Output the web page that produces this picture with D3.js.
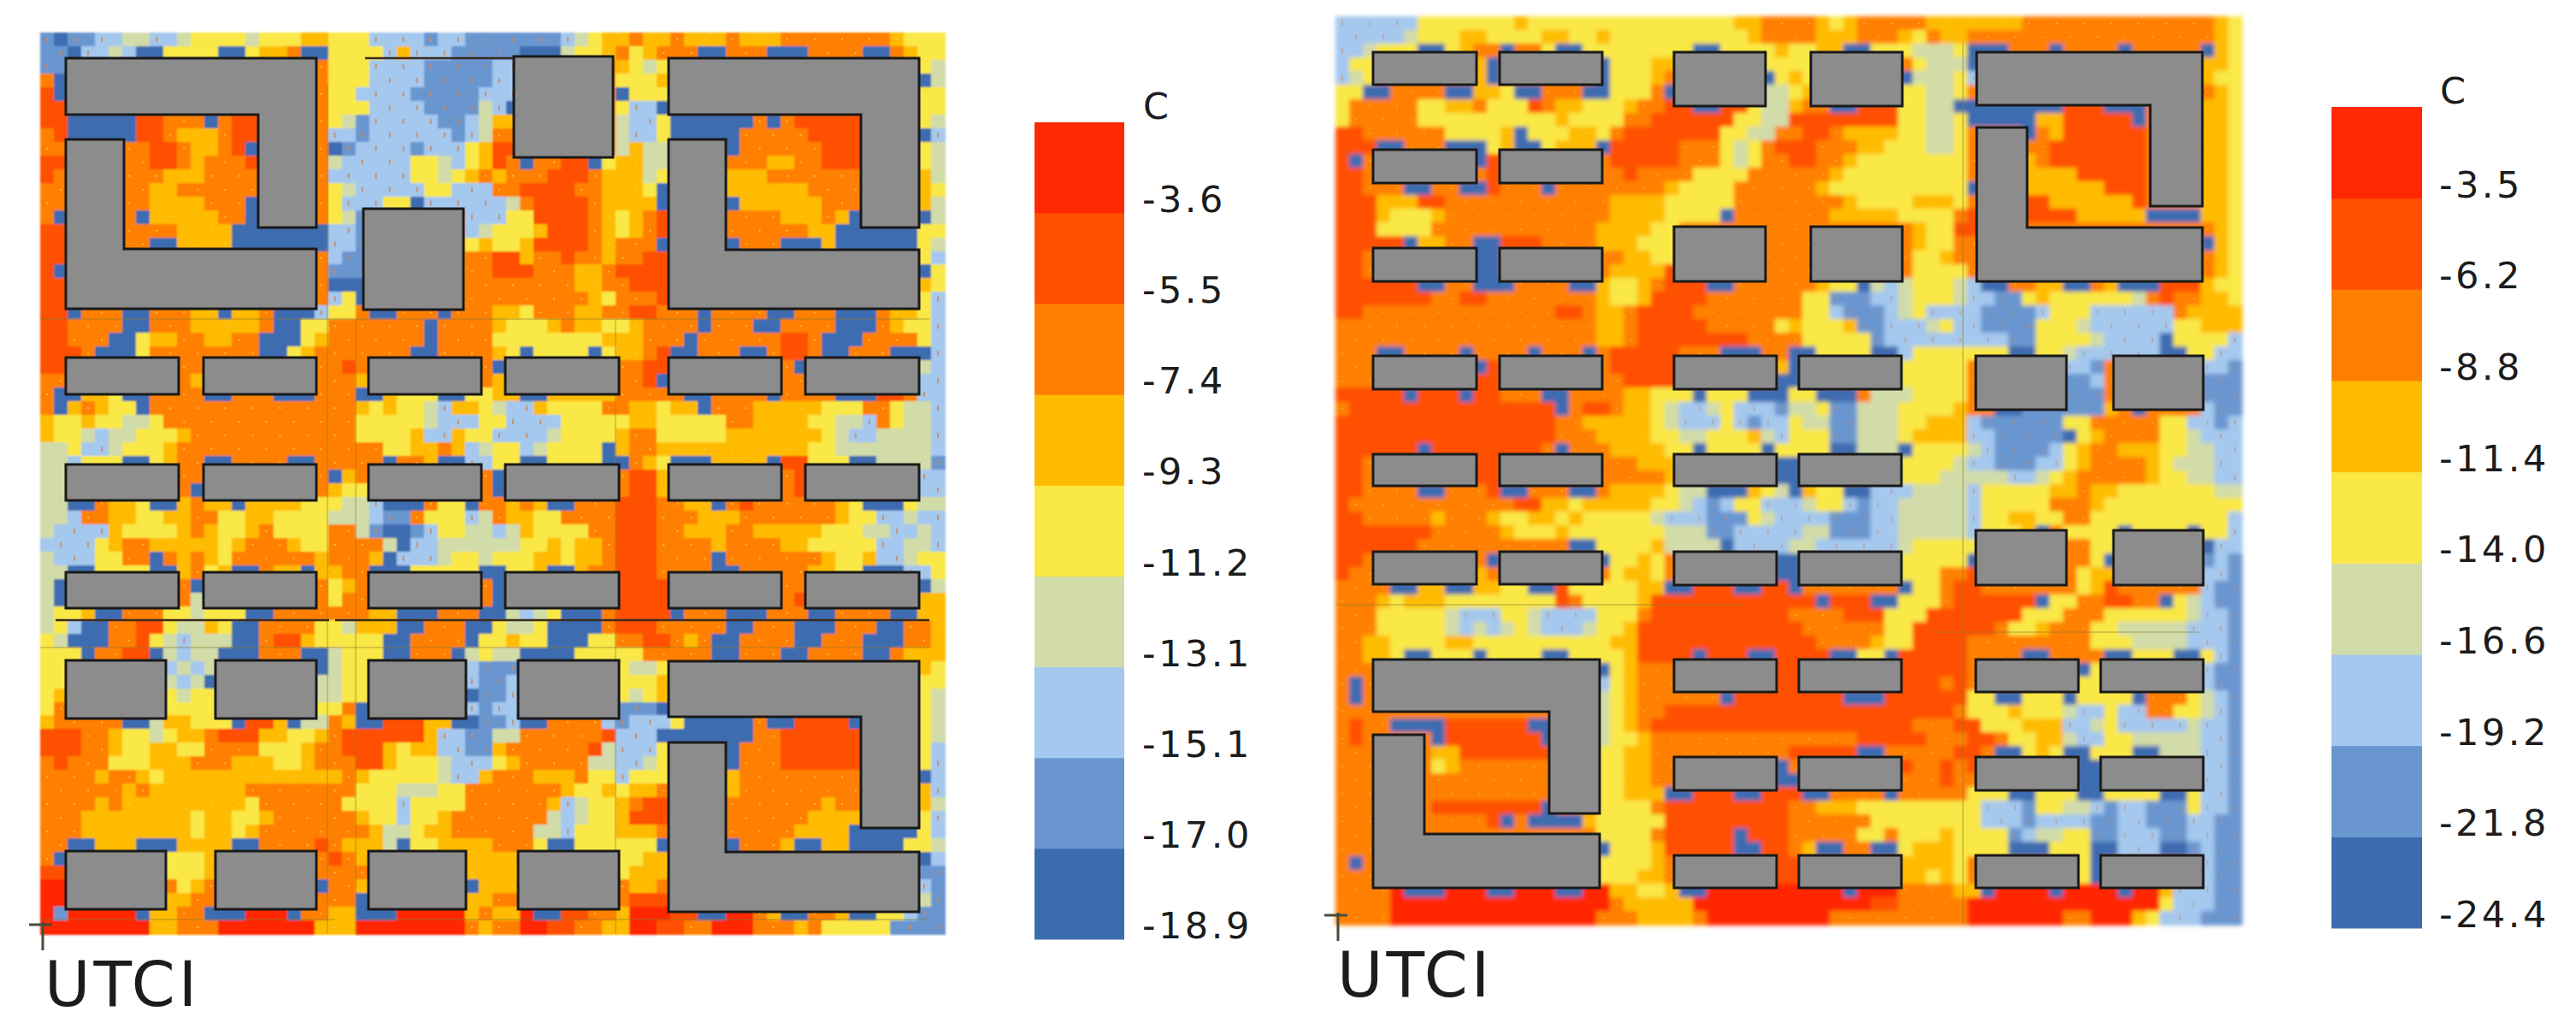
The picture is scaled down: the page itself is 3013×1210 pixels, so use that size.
<!DOCTYPE html>
<html>
<head>
<meta charset="utf-8">
<title>UTCI</title>
<script src="https://cdn.jsdelivr.net/npm/d3@7"></script>
<style>
  body { margin: 0; background: #fff; }
  text { font-family: "DejaVu Sans", sans-serif; fill: #1c1c1c; }
</style>
</head>
<body>
<div id="chart"></div>
<script>
// UTCI class of every grid cell, 0 = coldest, 8 = warmest (66 x 66, split in blocks of 11 for reading)
var leftCells = [
"10112233223 44443444554 44222212211 11111234556 55655565556 66666665444",
"11022320044 44004556004 44425222111 11000344564 56660066600 06666006544",
"11666666666 66666666664 44222211111 22666666654 34666666666 66666666643",
"60666666666 66666666664 44222211111 22666666644 45666666666 66666666603",
"70666666666 66666666664 42222111112 22666666604 44666666666 66666666644",
"77666666666 66666666664 44222211113 20666666642 20666666666 66666666644",
"77000007766 60677666664 31222221123 55666666632 24000000606 77777066643",
"67000007765 55677666662 21222222123 66666666632 24000006666 67777766602",
"66666666776 55670666660 12222122245 77666666635 33666606666 66777666643",
"77666666776 56667666663 22222443245 76066770455 33666666655 66777666643",
"76666666655 56666666662 22222443456 56667776555 34666655566 66666666653",
"66666666556 66666666664 32222244222 66777766555 40666655555 56666666654",
"66666666555 56660666664 22244022222 23677776555 50666605555 55666666653",
"60666660555 55660666664 31666666622 24477776545 67666666665 55650666603",
"77666666665 55500000002 21666666623 44457776545 67666666666 65500000044",
"77666666005 55500000002 21666666645 44577776566 60666606660 00500000043",
"77666666666 66666666662 11666666666 77566766566 77666666666 66666666642",
"70666666666 66666666661 11666666666 77766655677 77666666666 66666666604",
"77666666666 66666666660 00666666666 66666655667 77666666666 66666666654",
"77666666666 66666666662 40666666666 66666665466 67666666666 66666666642",
"77066600666 55055600024 46006660666 55466655667 76660666600 66600065542",
"77666600666 55555600446 66666606666 54445655445 66660666006 66600065442",
"77666004556 65566000456 66666606666 44444444555 66606666667 76000666642",
"77760004666 66666004566 66666006666 54044440455 67006660067 76006660002",
"77666666666 66666666666 76666666666 06666666666 77666666666 06666666632",
"66666666666 56666666666 65666666666 56666666666 70666666666 66666666622",
"60055400666 60066600066 60054440044 55005555566 66600666606 66600077622",
"60565440666 66666666666 65454432554 32254444665 54550666555 55444664332",
"54454433466 66666666666 64444432224 42222444445 54444466555 54433264332",
"54432334445 66666666666 64444522544 22223444456 64444455555 55432233332",
"33422344456 66666666666 66644556523 44234444056 65555555555 54433333332",
"33244400456 60066660066 66606650022 44004444006 54000555507 74440033331",
"33666666666 66666666660 56666666666 06666666667 75666666666 76666666622",
"33666666666 06666666665 44666666666 06666666667 75666666666 76666666622",
"33006554005 65505555444 33200064406 65650066677 76655067666 66654000433",
"33266554455 66445544443 33211644423 65544666677 76665556666 66654422322",
"32222544445 65445644446 63100124433 23544446677 76655566555 55444332232",
"22224566555 55456665446 66630223333 33445455677 76666566665 54444422332",
"32224466065 65466666656 66502223443 44455455677 76666066666 66544522344",
"33004444005 64500655055 66000444440 04450056677 76666006666 65544000224",
"30666666666 06666666664 56666666666 06666666677 77666666666 64666666603",
"30666666666 36666666664 66666666666 06666666677 77666666666 70666666655",
"34450066644 34440066666 66550006660 03234000677 77066600066 60066660055",
"34200667743 35400666644 35550066600 43340000677 76666600666 00066600665",
"43000667432 33300677544 44400666604 45440004466 77656006666 00666000665",
"44406677032 33000666003 44400666034 33000044444 66666006660 06666006555",
"44666666623 23666666603 44666666621 11666666643 34666666666 66666666654",
"44666666632 30666666633 44666666621 12666666644 45666666666 66666666644",
"45666666643 44666666633 44666666601 12666666643 45666666666 66666666643",
"46666666644 44666666644 60666666621 22666666611 10666666666 66666666643",
"56666600355 44407750336 50077755001 12006666212 22400000600 77770066643",
"77766544345 56777554456 77777752211 33666666722 20000000667 77777766643",
"77766544554 46666444566 77754552211 56666667322 24666606667 77777766642",
"67666444555 66655544566 67754443222 45666663322 34666606667 77777766642",
"66665665455 55555555555 65444443225 66655564424 44666656666 66666666602",
"66666656555 55556666666 64443334466 66666544545 56666656666 66666666652",
"66665655555 55554666666 44442444466 66665234456 77666666666 66566666653",
"66655555555 45544566666 65442445666 66663234457 77666666666 65555666642",
"66655555555 45545666666 66533455666 66633244455 56666666666 55550000042",
"66005550005 55500666676 55530445555 66640044444 40666606665 00550000443",
"60666666644 45666666667 65666666655 55666666644 55666666666 66666666602",
"77666666644 45666666666 66666666655 55666666645 55666666666 66666666611",
"88666666664 56666666606 65666666605 55666666665 56666666666 66666666621",
"88666666655 66666666666 60666666655 66666666667 77666666666 66666666631",
"81888880556 60008880665 50008888856 55800776658 88770088650 06650044211",
"88888888556 66888888855 58888888865 66887766558 87766888666 56444441111"
];

var rightCells = [
"22222244444 44544444444 44444445566 66545666665 55555566666 66666666654",
"22222344455 44445544544 44444444566 66555666546 55666666666 66666666654",
"22344400456 60664004444 44440044445 44550044433 34000666066 66066666054",
"24466666665 06666666044 45566666644 44666666643 33066666666 66666666554",
"23466666665 06666666044 45666666604 54666666033 34266666666 66666666544",
"44006666005 54006660044 46066666633 45666666443 34666666666 66666666654",
"46666644556 44476554445 66770077433 56600777443 30000000077 70006666554",
"46666644444 44444544446 67777774433 77777777443 34000005577 77706666554",
"77666666444 45044455467 77777744336 67765555443 34666606577 77776666554",
"77700666000 45004555077 77766643467 77666554443 34666666777 77776666554",
"70666666660 76666666677 77766643466 77665444444 44666656777 77776666554",
"77666666666 76666666667 66664444666 66654444444 44666655557 77776666554",
"77666006600 76660666666 66544446666 66544444444 44066655555 57776666554",
"77755577666 66666666655 55444446666 66665444455 54666677555 55576666554",
"77754445666 66666666655 55444406666 66655555444 46766677775 55550000554",
"77744446666 66666666555 54466666666 66666666654 47766666666 66666666654",
"77777055660 07776666555 44466666666 66666666654 46666666666 66666666054",
"77666666660 06666666665 54466666666 66666666644 56666666666 66666666654",
"77666666660 06666666655 55766666666 66666666644 44666666666 66666666654",
"77777700660 00666600544 56777006666 66544032344 43200665500 65000777544",
"77777776677 66666666544 57777666666 64411122344 43221145444 44436766554",
"77666666666 66666776556 77776666666 64421112342 22211112444 22222265555",
"66666666666 66666666556 77777666664 54445112223 42211114443 22222244555",
"66666666666 66666666556 77777777666 64444412222 22222114444 32222044442",
"66600666606 66606660677 77766600066 00444400244 44444004432 22222004422",
"66666666660 76666666677 77766666665 06666666444 44666666622 16666666221",
"66666666667 76666666667 77766666660 06666666444 44666666611 26666666111",
"77777077707 76660066665 54440444000 44000633344 44666666611 16666666111",
"67777777777 77777067765 54322342221 33411333444 45660011111 15606666211",
"77777777777 77777665555 54322242122 43311333445 55211111144 66666442212",
"77777777777 77777666555 54433444532 44411333455 55221111104 56666443222",
"77777707777 77776066655 55440444404 44400333044 44321111245 66555443322",
"77666666667 76666666666 55566666660 06666666444 43221112245 66665433322",
"77666666667 76666666666 66566666660 06666666444 33333223456 66665443322",
"77666600666 70066600655 55433000543 05440022233 33244444556 55444444433",
"76666666666 66775545555 54432124422 23442122333 33244444666 54444444444",
"77666665666 54455454444 43222111432 22211122333 33244554466 44444444442",
"77777776666 65444544444 44333112222 23311122333 33244450644 44044440442",
"77777766666 66666600444 45333302222 33222222344 44466666666 44666666022",
"77666666666 06666666044 54666666660 06666666444 44066666666 40666666121",
"76666666665 66666666645 54666666660 06666666444 66766666664 55666666221",
"66660055005 54400744444 55007770077 06666666044 67766666664 57666666211",
"66654555444 44444764444 57777777777 77077700444 67777770446 67766043211",
"66644444322 24432222444 67777777777 66667774447 77777744466 64444443221",
"66644444323 23432223445 77777777777 76666664477 77776445666 44333332221",
"66554444554 44444444455 77777777777 77666654477 77666666666 44433332221",
"66554004440 44440044445 77770777007 77700440777 77666600666 60044400421",
"66666666666 76666666045 66666666667 76666666777 77666666660 46666666211",
"60666666666 76666666245 66666666667 76666666777 67666666664 46666666211",
"60666666666 66666666345 66666607777 77770007777 77440044404 44406664321",
"66666666666 66666666345 66777777777 77777777777 76444544432 24226644321",
"67660000777 77700666345 67777777777 77777777766 67744455522 34222223221",
"67666660777 77770666344 56666666666 66666777776 66776445532 24433333221",
"66666665577 77777666445 56666666666 77777006666 67760045400 44400333221",
"66666664566 66666666445 56666666660 66666666766 76766666660 00666666221",
"66666666666 66666666445 56666666660 06666666666 76666666660 00666666221",
"66666666666 66666666445 55007770077 70066660666 66444004440 04444004221",
"66666667777 77770666444 46777777777 66555444444 44422214433 21221114221",
"66666666666 70600005444 44777777777 66666644444 44422212222 11221112211",
"66666666666 66666666444 46777770777 66666446444 54444123344 11222112211",
"66666666666 66666666044 45777770077 65006600455 54444000444 00222001211",
"60666666666 66666666444 45666666667 76666666555 54666666664 06666666211",
"66666666666 66666666444 55666666667 76666666554 54666666664 06666666211",
"66668000888 00888008855 44500888888 88880888666 65508888088 88088522211",
"66668888888 88888888865 55558888888 88888877666 66888888888 88888422211",
"66668888888 88888888666 55556888888 88866666666 66888888866 88854222111"
];

var colors = ["#3c6cb0", "#6a96d0", "#a4c8ee", "#d2dca8", "#f9e844", "#ffbb00", "#ff8000", "#ff5000", "#ff2800"];
var classes = d3.range(9);

// tick labels of the two colour bars, warmest first
var leftTicks = ["-3.6", "-5.5", "-7.4", "-9.3", "-11.2", "-13.1", "-15.1", "-17.0", "-18.9"];
var rightTicks = ["-3.5", "-6.2", "-8.8", "-11.4", "-14.0", "-16.6", "-19.2", "-21.8", "-24.4"];

// buildings in site units, [x0, y0, x1, y1] for the plain blocks
var leftBlocks = [
  [378, 206, 495, 324], [554, 28, 670, 146],
  [30, 380, 162, 423], [191, 380, 323, 423], [384, 380, 516, 423], [544, 380, 677, 423], [735, 380, 867, 423], [895, 380, 1028, 423],
  [30, 505, 162, 547], [191, 505, 323, 547], [384, 505, 516, 547], [544, 505, 677, 547], [735, 505, 867, 547], [895, 505, 1028, 547],
  [30, 631, 162, 673], [191, 631, 323, 673], [384, 631, 516, 673], [544, 631, 677, 673], [735, 631, 867, 673], [895, 631, 1028, 673],
  [30, 734, 147, 802], [205, 734, 323, 802], [384, 734, 498, 802], [559, 734, 677, 802],
  [30, 957, 147, 1025], [205, 957, 323, 1025], [384, 957, 498, 1025], [559, 957, 677, 1025]
];
var leftWings = [
  [[30, 30], [323, 30], [323, 228], [255, 228], [255, 96], [30, 96]],
  [[30, 125], [98, 125], [98, 253], [323, 253], [323, 323], [30, 323]],
  [[735, 30], [1028, 30], [1028, 228], [960, 228], [960, 96], [735, 96]],
  [[735, 125], [802, 125], [802, 254], [1028, 254], [1028, 323], [735, 323]],
  [[735, 735], [1028, 735], [1028, 930], [960, 930], [960, 800], [735, 800]],
  [[735, 830], [802, 830], [802, 958], [1028, 958], [1028, 1028], [735, 1028]]
];
var rightBlocks = [
  [44, 42, 165, 80], [192, 42, 312, 80], [44, 156, 165, 195], [192, 156, 312, 195],
  [44, 271, 165, 310], [192, 271, 312, 310], [44, 397, 165, 436], [192, 397, 312, 436],
  [44, 512, 165, 549], [192, 512, 312, 549], [44, 626, 165, 664], [192, 626, 312, 664],
  [396, 42, 503, 105], [556, 42, 663, 105], [396, 246, 503, 310], [556, 246, 663, 310],
  [396, 397, 516, 436], [542, 397, 662, 436], [396, 512, 516, 549], [542, 512, 662, 549],
  [396, 626, 516, 665], [542, 626, 662, 665], [396, 752, 516, 790], [542, 752, 662, 790],
  [396, 866, 516, 905], [542, 866, 662, 905], [396, 981, 516, 1019], [542, 981, 662, 1019],
  [749, 397, 855, 460], [910, 397, 1015, 460], [749, 601, 855, 665], [910, 601, 1015, 665],
  [749, 752, 869, 790], [895, 752, 1015, 790], [749, 866, 869, 905], [895, 866, 1015, 905],
  [749, 981, 869, 1019], [895, 981, 1015, 1019]
];
var rightWings = [
  [[44, 752], [309, 752], [309, 932], [250, 932], [250, 813], [44, 813]],
  [[44, 840], [104, 840], [104, 956], [309, 956], [309, 1019], [44, 1019]],
  [[750, 42], [1014, 42], [1014, 222], [953, 222], [953, 104], [750, 104]],
  [[750, 130], [809, 130], [809, 247], [1014, 247], [1014, 310], [750, 310]]
];

// model edge lines, [x0, y0, x1, y1] in site units
var leftEdges = [
  [18, 687, 338, 687], [345, 687, 1040, 687], [380, 30, 556, 30]
];
var leftFaint = [
  [0, 335, 1040, 335], [0, 719, 1040, 719], [0, 1037, 345, 1037], [384, 1037, 1040, 1037],
  [336, 60, 336, 1054], [369, 335, 369, 1054], [673, 335, 673, 1054]
];
var rightFaint = [
  [734, 30, 734, 1062], [0, 688, 480, 688], [700, 720, 1010, 720]
];

var svgWidth = 3013;
var svgHeight = 1210;

var svg = d3.select("#chart")
  .append("svg")
  .attr("width", svgWidth)
  .attr("height", svgHeight);

// the picture is a soft scan, so the cells get a small blur
var defs = svg.append("defs");
[["softLeft", 1.2], ["softRight", 2.4]].forEach(function(f) {
  defs.append("filter")
    .attr("id", f[0])
    .attr("x", "-1%").attr("y", "-1%")
    .attr("width", "102%").attr("height", "102%")
    .append("feGaussianBlur")
    .attr("stdDeviation", f[1]);
});

var colorScale = d3.scaleOrdinal().domain(classes).range(colors);

// one map panel: the grid, the wind dots, the edge lines and the buildings
function drawMap(cfg) {
  var rows = cfg.cells.map(d => d.replace(/ /g, ""));
  var cells = [];
  rows.forEach(function(row, r) {
    row.split("").forEach(function(v, c) {
      cells.push({ r: r, c: c, v: +v });
    });
  });

  var xBand = d3.scaleBand().domain(d3.range(66)).range([cfg.left, cfg.left + cfg.width]);
  var yBand = d3.scaleBand().domain(d3.range(66)).range([cfg.top, cfg.top + cfg.height]);
  var x = d3.scaleLinear().domain([0, cfg.width]).range([cfg.left, cfg.left + cfg.width]);
  var y = d3.scaleLinear().domain([0, cfg.height]).range([cfg.top, cfg.top + cfg.height]);

  var g = svg.append("g");

  g.append("g")
    .attr("filter", `url(#${cfg.soft})`)
    .selectAll("rect")
    .data(cells)
    .enter()
    .append("rect")
    .attr("x", d => xBand(d.c))
    .attr("y", d => yBand(d.r))
    .attr("width", xBand.bandwidth() + 0.6)
    .attr("height", yBand.bandwidth() + 0.6)
    .attr("fill", d => colorScale(d.v))
    .attr("shape-rendering", "crispEdges");

  // wind arrows show as little specks, only on every other cell
  var specks = cells.filter(d => (d.v === 1 || d.v === 2 || d.v === 5 || d.v === 6) && (d.r + d.c) % 2 === 0);
  g.selectAll("rect.speck")
    .data(specks)
    .enter()
    .append("rect")
    .attr("class", "speck")
    .attr("x", d => xBand(d.c) + xBand.bandwidth() / 2 - 1)
    .attr("y", d => yBand(d.r) + yBand.bandwidth() / 2 - (d.v < 3 ? 3 : 1))
    .attr("width", 2)
    .attr("height", d => d.v < 3 ? 6 : 2)
    .attr("fill", d => d.v < 3 ? "#c9885e" : "#ffc95a")
    .attr("opacity", cfg.speckOpacity);

  g.selectAll("line.faint")
    .data(cfg.faint)
    .enter()
    .append("line")
    .attr("class", "faint")
    .attr("x1", d => x(d[0]))
    .attr("y1", d => y(d[1]))
    .attr("x2", d => x(d[2]))
    .attr("y2", d => y(d[3]))
    .attr("stroke", "#8a7a30")
    .attr("stroke-width", 1.5)
    .attr("opacity", 0.45);

  g.selectAll("line.edge")
    .data(cfg.edges)
    .enter()
    .append("line")
    .attr("class", "edge")
    .attr("x1", d => x(d[0]))
    .attr("y1", d => y(d[1]))
    .attr("x2", d => x(d[2]))
    .attr("y2", d => y(d[3]))
    .attr("stroke", "#3b2a1c")
    .attr("stroke-width", 2.5);

  g.selectAll("rect.block")
    .data(cfg.blocks)
    .enter()
    .append("rect")
    .attr("class", "block")
    .attr("x", d => x(d[0]))
    .attr("y", d => y(d[1]))
    .attr("width", d => x(d[2]) - x(d[0]))
    .attr("height", d => y(d[3]) - y(d[1]))
    .attr("fill", "#8c8c8c")
    .attr("stroke", "#1a1a1a")
    .attr("stroke-width", 3);

  var wingLine = d3.line().x(d => x(d[0])).y(d => y(d[1]));
  g.selectAll("path.wing")
    .data(cfg.wings)
    .enter()
    .append("path")
    .attr("class", "wing")
    .attr("d", d => wingLine(d) + "Z")
    .attr("fill", "#8c8c8c")
    .attr("stroke", "#1a1a1a")
    .attr("stroke-width", 3);

  // origin cross in the lower left corner
  g.append("path")
    .attr("d", `M${cfg.crossX - 16},${cfg.crossY}H${cfg.crossX + 11}M${cfg.crossX},${cfg.crossY - 3}V${cfg.crossY + 30}`)
    .attr("stroke", "#4a4a3a")
    .attr("stroke-width", 3)
    .attr("fill", "none");

  svg.append("text")
    .attr("x", cfg.titleX)
    .attr("y", cfg.titleY)
    .attr("font-size", 73)
    .attr("letter-spacing", 4)
    .text("UTCI");
}

// colour bar with C on top, a label next to the lower edge of each band
function drawLegend(cfg) {
  var bands = d3.scaleBand()
    .domain(d3.range(9))
    .range([cfg.top, cfg.bottom]);

  svg.selectAll(null)
    .data(classes)
    .enter()
    .append("rect")
    .attr("x", cfg.left)
    .attr("y", d => bands(8 - d))
    .attr("width", cfg.width)
    .attr("height", bands.bandwidth() + 0.5)
    .attr("fill", d => colors[d]);

  svg.selectAll(null)
    .data(cfg.ticks)
    .enter()
    .append("text")
    .attr("x", cfg.labelX)
    .attr("y", (d, i) => bands(i) + bands.bandwidth() - 1)
    .attr("font-size", 43)
    .attr("letter-spacing", 3.5)
    .text(d => d);

  svg.append("text")
    .attr("x", cfg.labelX + 1)
    .attr("y", cfg.top - 4)
    .attr("font-size", 43)
    .text("C");
}

drawMap({
  cells: leftCells, blocks: leftBlocks, wings: leftWings, edges: leftEdges, faint: leftFaint,
  left: 47, top: 38, width: 1058, height: 1054, soft: "softLeft", speckOpacity: 0.8,
  crossX: 50, crossY: 1081, titleX: 52, titleY: 1176
});
drawMap({
  cells: rightCells, blocks: rightBlocks, wings: rightWings, edges: [], faint: rightFaint,
  left: 1562, top: 19, width: 1060, height: 1062, soft: "softRight", speckOpacity: 0.45,
  crossX: 1565, crossY: 1070, titleX: 1564, titleY: 1165
});

drawLegend({ ticks: leftTicks, left: 1210, width: 105, top: 143, bottom: 1098, labelX: 1336 });
drawLegend({ ticks: rightTicks, left: 2727, width: 106, top: 125, bottom: 1085, labelX: 2853 });
</script>
</body>
</html>
